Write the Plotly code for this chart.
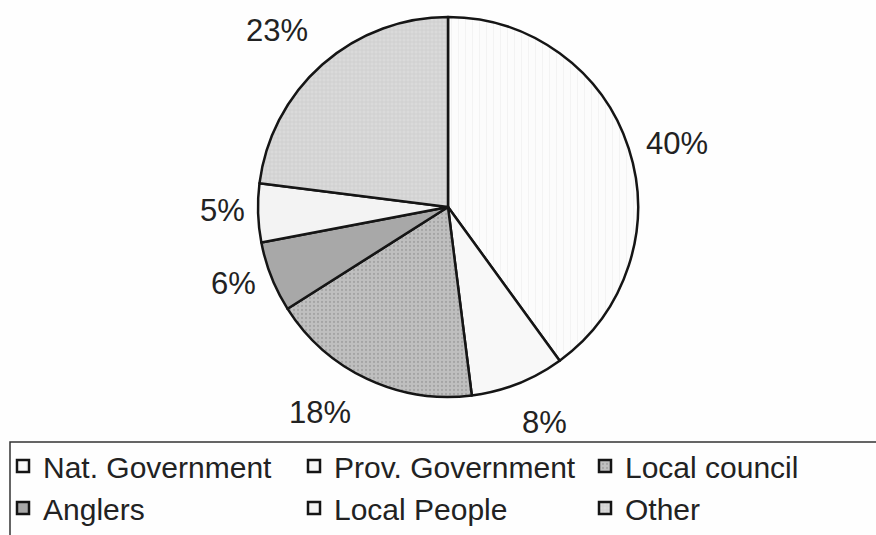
import plotly.graph_objects as go

# Share of responsibility by stakeholder (percent)
categories = ["Nat. Government", "Prov. Government", "Local council",
              "Anglers", "Local People", "Other"]
shares = [40, 8, 18, 6, 5, 23]

# Slice fills and patterns (style only)
fills = ["#fcfcfc", "#f8f8f8", "#bfbfbf", "#a8a8a8", "#f3f3f3", "#dadada"]
pattern_shapes = ["|", "", ".", "", "", "+"]
pattern_fg = ["#eaeaea", "#f8f8f8", "#8a8a8a", "#a8a8a8", "#f3f3f3", "#bdbdbd"]
pattern_size = [7, 8, 4, 8, 8, 4]
pattern_solidity = [0.15, 0.3, 0.25, 0.3, 0.3, 0.3]

W, H = 876, 535
CX, CY, R = 448, 207, 190  # pie centre and radius in pixels

# Label anchor points (pixels) for the percentage texts
label_xy = [(677, 143), (544, 422), (320, 412), (233, 283), (222, 210), (277, 30)]

fig = go.Figure()
fig.add_trace(go.Pie(
    labels=categories,
    values=shares,
    sort=False,
    direction="clockwise",
    rotation=0,
    textinfo="none",
    hoverinfo="label+percent",
    marker=dict(
        colors=fills,
        line=dict(color="#151515", width=2.5),
        pattern=dict(shape=pattern_shapes, fgcolor=pattern_fg,
                     size=pattern_size, solidity=pattern_solidity,
                     fillmode="overlay"),
    ),
    domain=dict(x=[(CX - R) / W, (CX + R) / W],
                y=[1 - (CY + R) / H, 1 - (CY - R) / H]),
    showlegend=True,
))

total = sum(shares)
annotations = []
for v, (px, py) in zip(shares, label_xy):
    annotations.append(dict(
        x=px / W, y=1 - py / H, xref="paper", yref="paper",
        text=f"{round(100 * v / total)}%", showarrow=False,
        xanchor="center", yanchor="middle",
        font=dict(family="Liberation Sans, Arial, sans-serif", size=31, color="#222"),
    ))

fig.update_layout(
    width=W, height=H,
    margin=dict(l=0, r=0, t=0, b=0),
    paper_bgcolor="#fefefe",
    plot_bgcolor="#fefefe",
    font=dict(family="Liberation Sans, Arial, sans-serif", color="#222"),
    annotations=annotations,
    legend=dict(
        orientation="h",
        x=7 / W, xanchor="left",
        y=1 - 440 / H, yanchor="top",
        font=dict(size=30, color="#222"),
        bgcolor="rgba(0,0,0,0)",
        borderwidth=0,
        entrywidth=246,
        entrywidthmode="pixels",
        traceorder="normal",
    ),
    shapes=[dict(
        type="rect", xref="paper", yref="paper",
        x0=10 / W, x1=1.02, y0=-0.05, y1=1 - 442 / H,
        line=dict(color="#333", width=1.5),
        fillcolor="rgba(0,0,0,0)", layer="below",
    )],
)

fig.write_html("out.html")
